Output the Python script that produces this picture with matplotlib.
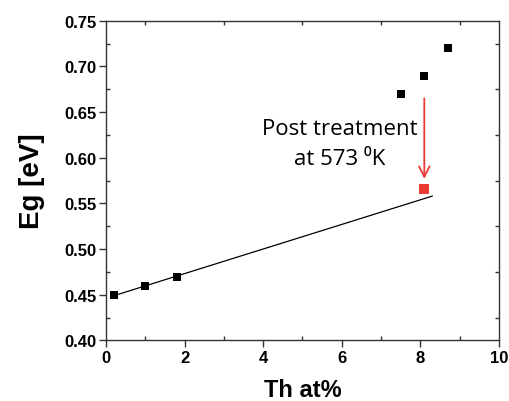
import matplotlib
matplotlib.use("Agg")
import matplotlib.pyplot as plt
from matplotlib.ticker import MultipleLocator, FormatStrFormatter

# measured band gap vs Th content
th = [0.2, 1.0, 1.8, 7.5, 8.1, 8.7]
eg = [0.450, 0.460, 0.470, 0.670, 0.690, 0.720]

# linear trend through the low-Th points
fit_x = [0.2, 8.3]
fit_y = [0.449, 0.558]

# after post treatment
post_x = [8.1]
post_y = [0.566]
arrow_from = (8.1, 0.665)
arrow_to = (8.1, 0.577)

RED = "#ea3b35"

plt.rcParams["font.family"] = ["Liberation Sans", "DejaVu Sans"]

fig = plt.figure(figsize=(5.1, 4.02), dpi=100)
ax = fig.add_axes([0.2078, 0.1505, 0.7706, 0.7955])

ax.plot(fit_x, fit_y, color="black", lw=0.9)
ax.plot(th, eg, "s", color="black", ms=5.8, mew=0)
ax.plot(post_x, post_y, "s", color=RED, ms=7.5, mew=0)
ax.annotate("", xy=arrow_to, xytext=arrow_from,
            arrowprops=dict(arrowstyle="->,head_length=0.75,head_width=0.38",
                            color=RED, lw=1.3, shrinkA=0, shrinkB=0))

ax.text(5.95, 0.632, "Post treatment", ha="center", va="center",
        fontsize=16, family=["Open Sans", "DejaVu Sans"])
ax.text(5.95, 0.599, "at 573 \u2070K", ha="center", va="center",
        fontsize=16, family=["Open Sans", "DejaVu Sans"])

ax.set_xlim(0, 10)
ax.set_ylim(0.40, 0.75)
ax.xaxis.set_major_locator(MultipleLocator(2))
ax.xaxis.set_minor_locator(MultipleLocator(1))
ax.yaxis.set_major_locator(MultipleLocator(0.05))
ax.yaxis.set_minor_locator(MultipleLocator(0.025))
ax.yaxis.set_major_formatter(FormatStrFormatter("%.2f"))

for s in ax.spines.values():
    s.set_color("#333333")
    s.set_linewidth(1.0)

ax.tick_params(which="major", direction="out", length=5, width=1, color="#333333",
               labelsize=12, pad=2)
ax.tick_params(which="minor", direction="in", length=3, width=1, color="#333333",
               top=True, right=True)
for lab in ax.get_xticklabels() + ax.get_yticklabels():
    lab.set_fontweight("bold")

ax.set_xlabel("Th at%", fontsize=17, fontweight="bold", labelpad=9)
ax.set_ylabel("Eg [eV]", fontsize=20, fontweight="bold", labelpad=14)

fig.savefig("out.png", dpi=100)
